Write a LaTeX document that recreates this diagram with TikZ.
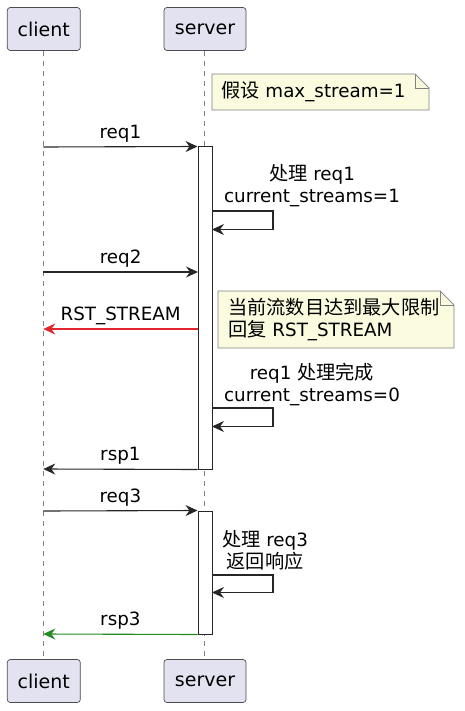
\documentclass[tikz,border=0pt]{standalone}
\usepackage{fontspec}
\setmainfont{DejaVu Sans}
\newfontfamily\cjk[Scale=1.05]{Noto Sans CJK SC}
\usetikzlibrary{arrows.meta}
\definecolor{partfill}{HTML}{E2E2F0}
\definecolor{notefill}{HTML}{FBFBDF}
\definecolor{rstred}{HTML}{E3262B}
\definecolor{okgreen}{HTML}{228B22}
\begin{document}
\begin{tikzpicture}[x=1pt,y=-1pt,
  part/.style={draw=black!70,fill=partfill,rounded corners=3pt,line width=0.7pt,
    minimum height=43pt,inner sep=0pt,font=\fontsize{19}{23}\selectfont},
  lifeline/.style={draw=black!50,line width=0.6pt,dash pattern=on 5pt off 5pt},
  actbox/.style={draw=black!85,fill=white,line width=1pt,minimum width=14pt,inner sep=0pt},
  msg/.style={draw=black!85,line width=1.1pt,-{Stealth[length=12pt,width=11pt,inset=4pt]}},
  lbl/.style={font=\fontsize{18.3}{22}\selectfont,inner sep=0pt},
  notebox/.style={draw=black!50,fill=notefill,line width=0.7pt},
]
\useasboundingbox (0,0) rectangle (465,711);

% participants
\node[part,minimum width=73pt] (ct) at (43.8,29) {client};
\node[part,minimum width=82pt] (st) at (205,29) {server};
\node[part,minimum width=73pt] (cb) at (43.8,681) {client};
\node[part,minimum width=82pt] (sb) at (205,681) {server};

% lifelines
\draw[lifeline] (43.3,51) coordinate (cl0) -- (43.3,659) coordinate (cl1);
\draw[lifeline] (204.5,51) coordinate (sl0) -- (204.5,659) coordinate (sl1);

% activations
\node[actbox,minimum height=322pt] (a1) at (205,308) {};
\node[actbox,minimum height=123pt] (a2) at (205,572.5) {};

% note 1
\draw[notebox] (212,74) coordinate (n1a) -- (415,74) -- (429,88) -- (429,110) -- (212,110) -- cycle;
\draw[notebox,fill=none] (415,74) -- (415,88) -- (429,88);
\node[lbl,anchor=west] (n1) at (221,92) {{\cjk 假设} max\_stream=1};

% req1
\coordinate (c1) at (43.3,147);
\draw[msg] (c1) -- (a1.north west) node[lbl,midway,above=4pt] (l1) {req1};

% self 1
\node[lbl,align=center] (s1t) at (312,186) {{\cjk 处理} req1\\current\_streams=1};
\coordinate (s1a) at (212,211);
\coordinate (s1b) at (212,229.5);
\draw[msg] (s1a) -- ++(61,0) |- (s1b);

% req2
\coordinate (c2) at (43.3,272);
\coordinate (d2) at (198,272);
\draw[msg] (c2) -- (d2) node[lbl,midway,above=4pt] (l2) {req2};

% RST_STREAM
\coordinate (d3) at (198,329);
\coordinate (c3) at (43.3,329);
\draw[msg,draw=rstred,-{Stealth[length=12pt,width=11pt,inset=4pt,fill=rstred]}] (d3) -- (c3) node[lbl,midway,above=4pt,text=black] (l3) {RST\_STREAM};

% note 2
\draw[notebox] (218,291) -- (440,291) -- (454,305) -- (454,348) -- (218,348) -- cycle;
\draw[notebox,fill=none] (440,291) -- (440,305) -- (454,305);
\node[lbl,anchor=west,align=left] (n2) at (228,319.5) {{\cjk 当前流数目达到最大限制}\\{\cjk 回复} RST\_STREAM};

% self 2
\node[lbl,align=center] (s2t) at (312,384) {req1 {\cjk 处理完成}\\current\_streams=0};
\coordinate (s2a) at (212,408);
\coordinate (s2b) at (212,426.5);
\draw[msg] (s2a) -- ++(61,0) |- (s2b);

% rsp1
\coordinate (c4) at (43.3,469);
\draw[msg] (a1.south west) -- (c4) node[lbl,midway,above=4pt] (l4) {rsp1};

% req3
\coordinate (c5) at (43.3,511);
\draw[msg] (c5) -- (a2.north west) node[lbl,midway,above=4pt] (l5) {req3};

% self 3
\node[lbl,align=center] (s3t) at (265,550) {{\cjk 处理} req3\\{\cjk 返回响应}};
\coordinate (s3a) at (212,575);
\coordinate (s3b) at (212,592.5);
\draw[msg] (s3a) -- ++(61,0) |- (s3b);

% rsp3
\coordinate (c6) at (43.3,634);
\draw[msg,draw=okgreen,-{Stealth[length=12pt,width=11pt,inset=4pt,fill=okgreen]}] (a2.south west) -- (c6) node[lbl,midway,above=4pt,text=black] (l6) {rsp3};

\end{tikzpicture}
\end{document}
